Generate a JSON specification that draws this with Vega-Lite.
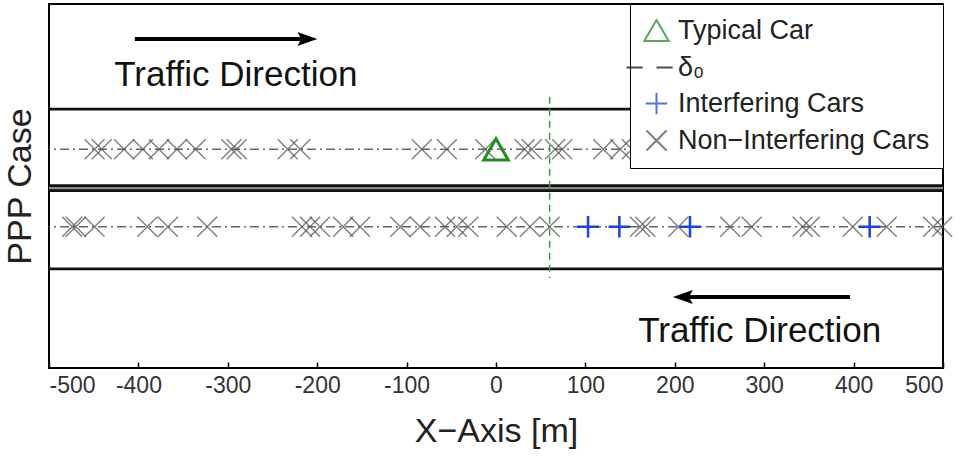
{
  "$schema": "https://vega.github.io/schema/vega-lite/v6.json",
  "width": 894,
  "height": 364,
  "autosize": {"type": "none"},
  "padding": {"left": 49, "top": 4, "right": 19, "bottom": 89},
  "background": "white",
  "config": {
    "font": "Liberation Sans",
    "view": {"stroke": "#000", "strokeWidth": 2},
    "axisX": {"grid": false, "domain": false, "tickSize": -6, "tickColor": "#000", "tickWidth": 1.5, "labelFontSize": 23, "labelColor": "#333", "labelPadding": 12, "titleFontSize": 34, "titleFontWeight": "normal", "titleColor": "#222", "titlePadding": 17},
    "axisY": {"grid": false, "domain": false, "ticks": false, "labels": false, "titleFontSize": 34, "titleFontWeight": "normal", "titleColor": "#222", "titlePadding": 12},
    "legend": {"orient": "top-right", "offset": 0, "padding": 13, "fillColor": "white", "strokeColor": "#000", "labelFontSize": 27, "labelColor": "#222", "labelOffset": 8, "rowPadding": 7, "symbolStrokeWidth": 2, "labelLimit": 400}
  },
  "datasets": {
    "median": [{"y": -0.22}],
    "edges": [{"y": 8.45}, {"y": 0.05}, {"y": -0.5}, {"y": -9.1}],
    "centers": [{"y": 4.03}, {"y": -4.47}],
    "delta": [{"x": 60, "y": 9.8, "y2": -10.1}],
    "arrows": [{"x": -404, "x2": -208, "y": 16.15}, {"x": 396, "x2": 206, "y": -12.2}],
    "headRight": [{"x": -211, "y": 16.15}],
    "headLeft": [{"x": 209, "y": -12.2}],
    "notes": [{"x": -291, "y": 12.2, "text": "Traffic Direction"}, {"x": 295, "y": -15.9, "text": "Traffic Direction"}],
    "nonInterfering": [
      {"x": -449, "y": 4.03, "series": "Non−Interfering Cars"},
      {"x": -441, "y": 4.03, "series": "Non−Interfering Cars"},
      {"x": -416, "y": 4.03, "series": "Non−Interfering Cars"},
      {"x": -395, "y": 4.03, "series": "Non−Interfering Cars"},
      {"x": -377, "y": 4.03, "series": "Non−Interfering Cars"},
      {"x": -357, "y": 4.03, "series": "Non−Interfering Cars"},
      {"x": -336, "y": 4.03, "series": "Non−Interfering Cars"},
      {"x": -296, "y": 4.03, "series": "Non−Interfering Cars"},
      {"x": -290, "y": 4.03, "series": "Non−Interfering Cars"},
      {"x": -233, "y": 4.03, "series": "Non−Interfering Cars"},
      {"x": -219, "y": 4.03, "series": "Non−Interfering Cars"},
      {"x": -83, "y": 4.03, "series": "Non−Interfering Cars"},
      {"x": -55, "y": 4.03, "series": "Non−Interfering Cars"},
      {"x": -12, "y": 4.03, "series": "Non−Interfering Cars"},
      {"x": 32, "y": 4.03, "series": "Non−Interfering Cars"},
      {"x": 40, "y": 4.03, "series": "Non−Interfering Cars"},
      {"x": 66, "y": 4.03, "series": "Non−Interfering Cars"},
      {"x": 74, "y": 4.03, "series": "Non−Interfering Cars"},
      {"x": 120, "y": 4.03, "series": "Non−Interfering Cars"},
      {"x": 139, "y": 4.03, "series": "Non−Interfering Cars"},
      {"x": 152, "y": 4.03, "series": "Non−Interfering Cars"},
      {"x": -474, "y": -4.47, "series": "Non−Interfering Cars"},
      {"x": -470, "y": -4.47, "series": "Non−Interfering Cars"},
      {"x": -449, "y": -4.47, "series": "Non−Interfering Cars"},
      {"x": -390, "y": -4.47, "series": "Non−Interfering Cars"},
      {"x": -367, "y": -4.47, "series": "Non−Interfering Cars"},
      {"x": -323, "y": -4.47, "series": "Non−Interfering Cars"},
      {"x": -217, "y": -4.47, "series": "Non−Interfering Cars"},
      {"x": -208, "y": -4.47, "series": "Non−Interfering Cars"},
      {"x": -197, "y": -4.47, "series": "Non−Interfering Cars"},
      {"x": -171, "y": -4.47, "series": "Non−Interfering Cars"},
      {"x": -152, "y": -4.47, "series": "Non−Interfering Cars"},
      {"x": -107, "y": -4.47, "series": "Non−Interfering Cars"},
      {"x": -85, "y": -4.47, "series": "Non−Interfering Cars"},
      {"x": -57, "y": -4.47, "series": "Non−Interfering Cars"},
      {"x": -44, "y": -4.47, "series": "Non−Interfering Cars"},
      {"x": -31, "y": -4.47, "series": "Non−Interfering Cars"},
      {"x": 12, "y": -4.47, "series": "Non−Interfering Cars"},
      {"x": 38, "y": -4.47, "series": "Non−Interfering Cars"},
      {"x": 60, "y": -4.47, "series": "Non−Interfering Cars"},
      {"x": 161, "y": -4.47, "series": "Non−Interfering Cars"},
      {"x": 167, "y": -4.47, "series": "Non−Interfering Cars"},
      {"x": 204, "y": -4.47, "series": "Non−Interfering Cars"},
      {"x": 262, "y": -4.47, "series": "Non−Interfering Cars"},
      {"x": 286, "y": -4.47, "series": "Non−Interfering Cars"},
      {"x": 343, "y": -4.47, "series": "Non−Interfering Cars"},
      {"x": 351, "y": -4.47, "series": "Non−Interfering Cars"},
      {"x": 399, "y": -4.47, "series": "Non−Interfering Cars"},
      {"x": 437, "y": -4.47, "series": "Non−Interfering Cars"},
      {"x": 489, "y": -4.47, "series": "Non−Interfering Cars"},
      {"x": 499, "y": -4.47, "series": "Non−Interfering Cars"}
    ],
    "interfering": [
      {"x": 103, "y": -4.47, "series": "Interfering Cars"},
      {"x": 138, "y": -4.47, "series": "Interfering Cars"},
      {"x": 217, "y": -4.47, "series": "Interfering Cars"},
      {"x": 418, "y": -4.47, "series": "Interfering Cars"}
    ],
    "typical": [{"x": 0, "y": 4.03, "series": "Typical Car"}]
  },
  "layer": [
    {
      "data": {"name": "median"},
      "mark": {"type": "rule", "color": "#8a8a8a", "strokeWidth": 4},
      "encoding": {"y": {"field": "y", "type": "quantitative", "scale": {"domain": [-20, 20], "nice": false, "zero": false}, "title": "PPP Case"}}
    },
    {
      "data": {"name": "edges"},
      "mark": {"type": "rule", "color": "#111", "strokeWidth": 2.8},
      "encoding": {"y": {"field": "y", "type": "quantitative", "title": "PPP Case"}}
    },
    {
      "data": {"name": "centers"},
      "mark": {"type": "rule", "color": "#666", "strokeWidth": 1.5, "strokeDash": [9, 4, 2, 4]},
      "encoding": {"y": {"field": "y", "type": "quantitative", "title": "PPP Case"}}
    },
    {
      "data": {"name": "nonInterfering"},
      "mark": {"type": "point", "filled": false, "strokeWidth": 1.4, "opacity": 0.75},
      "encoding": {
        "x": {"field": "x", "type": "quantitative", "scale": {"domain": [-500, 500], "nice": false, "zero": false}, "axis": {"values": [-500, -400, -300, -200, -100, 0, 100, 200, 300, 400, 500], "labelExpr": "datum.value + ''"}, "title": "X−Axis [m]"},
        "y": {"field": "y", "type": "quantitative", "title": "PPP Case"},
        "color": {"field": "series", "type": "nominal", "scale": {"domain": ["Typical Car", "δ₀", "Interfering Cars", "Non−Interfering Cars"], "range": ["#1f8f1f", "#111111", "#1c3fe6", "#555555"]}, "legend": {"title": null}},
        "shape": {"field": "series", "type": "nominal", "scale": {"domain": ["Typical Car", "δ₀", "Interfering Cars", "Non−Interfering Cars"], "range": ["triangle-up", "M-2.6,0H-1.2M0,0H1.4", "M-1,0H1M0,-1V1", "M-1,-1L1,1M-1,1L1,-1"]}, "legend": {"title": null}},
        "size": {"field": "series", "type": "nominal", "scale": {"domain": ["Typical Car", "δ₀", "Interfering Cars", "Non−Interfering Cars"], "range": [600, 400, 500, 250]}, "legend": {"title": null}}
      }
    },
    {
      "data": {"name": "interfering"},
      "mark": {"type": "point", "filled": false, "strokeWidth": 2.5, "opacity": 1},
      "encoding": {
        "x": {"field": "x", "type": "quantitative", "title": "X−Axis [m]"},
        "y": {"field": "y", "type": "quantitative", "title": "PPP Case"},
        "color": {"field": "series", "type": "nominal"},
        "shape": {"field": "series", "type": "nominal"},
        "size": {"field": "series", "type": "nominal"}
      }
    },
    {
      "data": {"name": "typical"},
      "mark": {"type": "point", "filled": false, "strokeWidth": 3, "opacity": 1},
      "encoding": {
        "x": {"field": "x", "type": "quantitative", "title": "X−Axis [m]"},
        "y": {"field": "y", "type": "quantitative", "title": "PPP Case"},
        "color": {"field": "series", "type": "nominal"},
        "shape": {"field": "series", "type": "nominal"},
        "size": {"field": "series", "type": "nominal"}
      }
    },
    {
      "data": {"name": "delta"},
      "mark": {"type": "rule", "color": "#3c9d3c", "strokeWidth": 1.5, "strokeDash": [7, 5]},
      "encoding": {
        "x": {"field": "x", "type": "quantitative", "title": "X−Axis [m]"},
        "y": {"field": "y", "type": "quantitative", "title": "PPP Case"},
        "y2": {"field": "y2"}
      }
    },
    {
      "data": {"name": "arrows"},
      "mark": {"type": "rule", "color": "#000", "strokeWidth": 4},
      "encoding": {
        "x": {"field": "x", "type": "quantitative", "title": "X−Axis [m]"},
        "x2": {"field": "x2"},
        "y": {"field": "y", "type": "quantitative", "title": "PPP Case"}
      }
    },
    {
      "data": {"name": "headRight"},
      "mark": {"type": "point", "shape": "M1,0L-1,-0.7L-0.6,0L-1,0.7Z", "filled": true, "color": "#000", "size": 400, "opacity": 1},
      "encoding": {
        "x": {"field": "x", "type": "quantitative", "title": "X−Axis [m]"},
        "y": {"field": "y", "type": "quantitative", "title": "PPP Case"}
      }
    },
    {
      "data": {"name": "headLeft"},
      "mark": {"type": "point", "shape": "M-1,0L1,-0.7L0.6,0L1,0.7Z", "filled": true, "color": "#000", "size": 400, "opacity": 1},
      "encoding": {
        "x": {"field": "x", "type": "quantitative", "title": "X−Axis [m]"},
        "y": {"field": "y", "type": "quantitative", "title": "PPP Case"}
      }
    },
    {
      "data": {"name": "notes"},
      "mark": {"type": "text", "fontSize": 35, "color": "#111", "baseline": "middle", "align": "center"},
      "encoding": {
        "x": {"field": "x", "type": "quantitative", "title": "X−Axis [m]"},
        "y": {"field": "y", "type": "quantitative", "title": "PPP Case"},
        "text": {"field": "text"}
      }
    }
  ]
}
